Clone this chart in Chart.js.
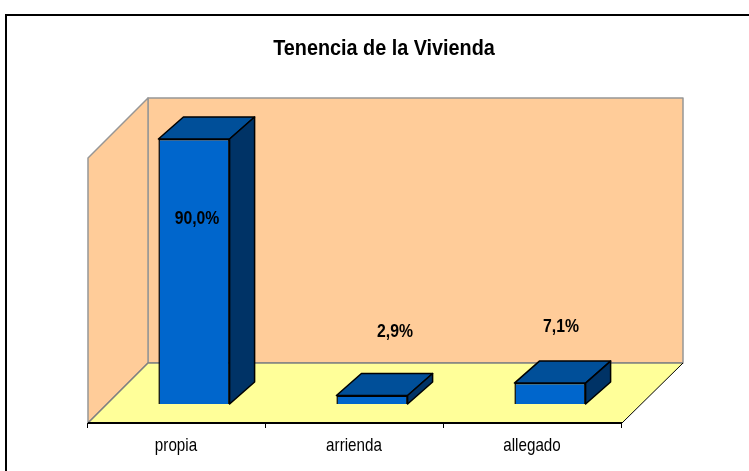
<!DOCTYPE html>
<html>
<head>
  <meta charset="utf-8">
  <title>Tenencia de la Vivienda</title>
  <script src="https://cdn.jsdelivr.net/npm/chart.js@4"></script>
  <style>
    html, body { margin: 0; padding: 0; background: #fff; }
    #wrap { position: relative; width: 749px; height: 471px; overflow: hidden; }
    canvas { display: block; }
  </style>
</head>
<body>
  <div id="wrap"><canvas id="myChart" width="749" height="471"></canvas></div>

  <script>
    const categories = ['propia', 'arrienda', 'allegado'];
    const shares = [90.0, 2.9, 7.1];
    const chartTitle = 'Tenencia de la Vivienda';

    const FONT = '"Liberation Sans", Arial, sans-serif';
    const labelShift = [[3, 80], [23, -64], [11, -56]];

    // box depth of the bars and of the whole floor
    const barDepthX = 25, barDepthY = 22;
    const floorDepthX = 60, floorDepthY = 60;
    const floorFrontGap = 19, floorFrontShift = 17;

    function poly(ctx, pts, fill, stroke, lw) {
      ctx.beginPath();
      pts.forEach((p, i) => i ? ctx.lineTo(p[0], p[1]) : ctx.moveTo(p[0], p[1]));
      ctx.closePath();
      ctx.lineJoin = 'round';
      if (fill) { ctx.fillStyle = fill; ctx.fill(); }
      if (stroke) { ctx.strokeStyle = stroke; ctx.lineWidth = lw; ctx.stroke(); }
    }

    // the picture's text is tall and squeezed, no narrow font is installed
    function squeezed(ctx, text, x, y, font, sx) {
      ctx.save();
      ctx.font = font;
      ctx.fillStyle = '#000';
      ctx.textAlign = 'center';
      ctx.textBaseline = 'middle';
      ctx.translate(x, y);
      ctx.scale(sx, 1);
      ctx.fillText(text, 0, 0);
      ctx.restore();
    }

    const box3d = {
      id: 'box3d',
      beforeDraw(chart) {
        const ctx = chart.ctx;
        const x = chart.scales.x, y = chart.scales.y;
        ctx.save();
        // outer frame, only top and left are inside the picture
        ctx.strokeStyle = '#000';
        ctx.lineWidth = 2;
        ctx.beginPath(); ctx.moveTo(6, 471); ctx.lineTo(6, 15); ctx.lineTo(749, 15); ctx.stroke();

        squeezed(ctx, chartTitle, 384, 49, 'bold 22px ' + FONT, 0.9);

        const fl = x.left - floorFrontShift, fr = x.right - floorFrontShift;
        const fb = y.getPixelForValue(0) + floorFrontGap;
        const h = y.getPixelForValue(0) - y.getPixelForValue(y.max);
        const bl = fl + floorDepthX, br = fr + floorDepthX + 1, bb = fb - floorDepthY;

        poly(ctx, [[bl, bb - h], [br, bb - h], [br, bb], [bl, bb]], '#ffcc99', '#969696', 1.5);
        poly(ctx, [[fl, fb - h], [bl, bb - h], [bl, bb], [fl, fb]], '#ffcc99', '#969696', 1.5);
        poly(ctx, [[fl, fb], [bl, bb], [br, bb], [fr, fb]], '#ffff99', null);
        ctx.strokeStyle = '#808080';
        ctx.lineWidth = 1.5;
        ctx.beginPath(); ctx.moveTo(fl, fb); ctx.lineTo(bl, bb); ctx.lineTo(br, bb); ctx.stroke();
        ctx.strokeStyle = '#000';
        ctx.lineWidth = 1;
        ctx.beginPath(); ctx.moveTo(fr, fb); ctx.lineTo(br, bb); ctx.stroke();

        // category axis with its ticks between the groups
        ctx.lineWidth = 2;
        ctx.beginPath(); ctx.moveTo(fl, fb); ctx.lineTo(fr, fb); ctx.stroke();
        ctx.lineWidth = 1;
        const step = (fr - fl) / categories.length;
        for (let i = 0; i <= categories.length; i++) {
          const tx = Math.round(fl + step * i) - 0.5;
          ctx.beginPath(); ctx.moveTo(tx, fb); ctx.lineTo(tx, fb + 5); ctx.stroke();
        }
        categories.forEach((c, i) => {
          squeezed(ctx, c, x.getPixelForValue(i) - floorFrontShift - 1, fb + 23, '19px ' + FONT, 0.8);
        });
        ctx.restore();
      },
      beforeDatasetsDraw(chart) {
        const ctx = chart.ctx;
        ctx.save();
        chart.getDatasetMeta(0).data.forEach(bar => {
          const half = bar.width / 2;
          const l = bar.x - half, r = bar.x + half, t = bar.y, b = bar.base;
          poly(ctx, [[l, t], [l + barDepthX, t - barDepthY], [r + barDepthX, t - barDepthY], [r, t]], '#004f99', '#000', 1.5);
          poly(ctx, [[r, t], [r + barDepthX, t - barDepthY], [r + barDepthX, b - barDepthY], [r, b]], '#003366', '#000', 1.5);
        });
        ctx.restore();
      },
      afterDatasetsDraw(chart) {
        const ctx = chart.ctx;
        chart.getDatasetMeta(0).data.forEach((bar, i) => {
          const text = shares[i].toFixed(1).replace('.', ',') + '%';
          squeezed(ctx, text, bar.x + labelShift[i][0], bar.y + labelShift[i][1], 'bold 19px ' + FONT, 0.83);
        });
      }
    };

    new Chart(document.getElementById('myChart'), {
      type: 'bar',
      data: {
        labels: categories,
        datasets: [{
          data: shares,
          backgroundColor: '#0066cc',
          borderColor: '#000',
          borderWidth: 1.5,
          categoryPercentage: 1,
          barPercentage: 0.4
        }]
      },
      plugins: [box3d],
      options: {
        responsive: false,
        animation: false,
        layout: { padding: { left: 105, right: 110, top: 139, bottom: 0 } },
        plugins: {
          legend: { display: false },
          tooltip: { enabled: false },
          title: { display: false }
        },
        scales: {
          y: { display: false, min: 0, max: 90 },
          x: {
            border: { display: false },
            grid: { display: false },
            afterFit(scale) { scale.height = 67; },
            ticks: { display: false }
          }
        }
      }
    });
  </script>
</body>
</html>
